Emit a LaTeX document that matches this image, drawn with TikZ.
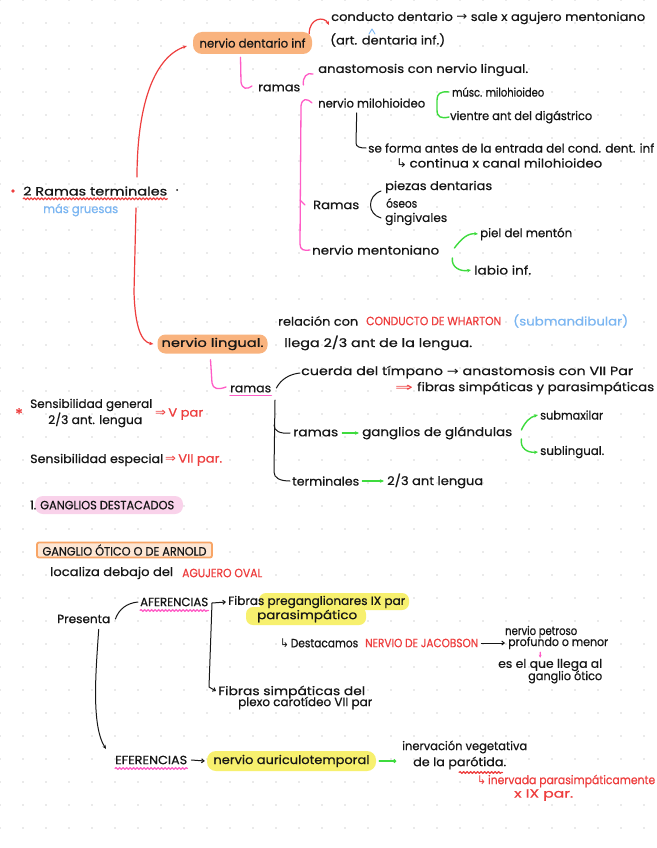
\documentclass[tikz,border=0pt]{standalone}
\usepackage{fontspec}
\setmainfont{Poppins}[FakeBold=0.6]
\newfontfamily\sym{DejaVu Sans}
\usetikzlibrary{arrows.meta,decorations.pathmorphing}
\definecolor{ink}{HTML}{161616}
\definecolor{redc}{HTML}{EE3E3E}
\definecolor{pinkc}{HTML}{FF5CC6}
\definecolor{greenc}{HTML}{3EDB3E}
\definecolor{bluec}{HTML}{7BB6F2}
\definecolor{orangef}{HTML}{F9B37E}
\definecolor{oranged}{HTML}{F8A566}
\definecolor{orangel}{HTML}{FDE6D4}
\definecolor{yelf}{HTML}{F7F06E}
\definecolor{pinkf}{HTML}{F9D2EA}
\definecolor{dotc}{HTML}{D6D6D6}
\newcommand\hand{\fontsize{12}{14}\selectfont}
\newcommand\fw[2]{\resizebox{#1pt}{\height}{#2}}
\begin{document}
\begin{tikzpicture}[x=1pt,y=-1pt,
  t/.style={anchor=west,inner sep=0pt,font=\hand,text=ink},
  blk/.style={draw=ink,line width=1pt,line cap=round,line join=round},
  redl/.style={draw=redc,line width=1.2pt,line cap=round,line join=round},
  pinkl/.style={draw=pinkc,line width=1.3pt,line cap=round,line join=round},
  greenl/.style={draw=greenc,line width=1.4pt,line cap=round,line join=round},
  bluel/.style={draw=bluec,line width=0.9pt,line cap=round,line join=round},
  arr/.style={-{Stealth[length=4pt,width=3.5pt]}},
  barb/.style={-{Straight Barb[length=2.5pt,width=4pt]}},
  wavy/.style={decorate,decoration={snake,amplitude=0.9pt,segment length=3.5pt}},
  hl/.style={inner sep=0pt,font=\hand,text=ink}]
\useasboundingbox (0,0) rectangle (656,848);
\fill[white] (0,0) rectangle (656,848);
\foreach \i in {0,...,28}{\foreach \j in {0,...,36}{\fill[dotc] (\i*23,\j*23) circle (0.9pt);}}

% ---------- nervio dentario inferior ----------
\node[hl,fill=orangef,rounded corners=9pt,minimum width=119pt,minimum height=22pt] (ndi) at (252.5,43) {\fw{106}{nervio dentario inf}};
\node[t] (cd) at (331,18) {\fw{314}{conducto dentario {\sym →} sale x agujero mentoniano}};
\node[t] (ad) at (330,40) {\fw{115}{(art. dentaria inf.)}};
\draw[bluel] (369,34) -- (372,29) -- (375,34);
\draw[redl,arr] ([xshift=-3pt,yshift=-2pt]ndi.north east) .. controls +(0,-16) and +(-5,-9) .. ([xshift=-2pt,yshift=-7pt]cd.west);

\node[t] (ramas1) at (258,88) {\fw{42}{ramas}};
\node[t] (anast) at (318,70) {\fw{210}{anastomosis con nervio lingual.}};
\node[t] (nmilo) at (318,103) {\fw{107}{nervio milohioideo}};
\node[t] (musc) at (452,92) {\fw{92}{músc. milohioideo}};
\node[t] (vientre) at (450,117) {\fw{142}{vientre ant del digástrico}};
\node[t] (seforma) at (368,148) {\fw{286}{se forma antes de la entrada del cond. dent. inf}};
\node[t] (continua) at (396,163) {\fw{206}{{\sym ↳}\,continua x canal milohioideo}};
\node[t] (ramas2) at (313,205) {\fw{46}{Ramas}};
\node[t] (piezas) at (385,187) {\fw{107}{piezas dentarias}};
\node[t] (oseos) at (386,203) {\fw{31}{óseos}};
\node[t] (ging) at (385,219) {\fw{62}{gingivales}};
\node[t] (nment) at (312,250) {\fw{127}{nervio mentoniano}};
\node[t] (piel) at (480,234) {\fw{92}{piel del mentón}};
\node[t] (labio) at (474,270) {\fw{57}{labio inf.}};

\draw[pinkl] ([xshift=-12pt,yshift=-3pt]ndi.south) -- (241,82) .. controls (242,89) and (247,90) .. ([xshift=-6pt,yshift=2pt]ramas1.west);
\draw[pinkl] ([xshift=3pt,yshift=3pt]ramas1.east) .. controls +(-1,-8) and +(-6,-2) .. ([xshift=-5pt,yshift=-4pt]anast.west);
\draw[pinkl] ([xshift=-6pt]nmilo.west) .. controls (307,98) and (302,98) .. (301,106) -- (300,244) .. controls (300,250) and (304,251) .. ([xshift=-2pt]nment.west);
\coordinate (rtick) at (300,200);
\draw[pinkl] (rtick) -- ([xshift=-8pt]ramas2.west);
\draw[greenl] ([xshift=-3pt]musc.west) .. controls (440,91) and (437,94) .. (437,100) -- (437,110) .. controls (437,117) and (441,119) .. ([xshift=-1pt]vientre.west);
\draw[blk] ([xshift=-15pt,yshift=-5pt]nmilo.south) -- (356,143) .. controls (356,147) and (360,148) .. ([xshift=-2pt]seforma.west);
\draw[blk] ([xshift=-4pt,yshift=-4pt]piezas.west) .. controls (367,196) and (367,214) .. ([xshift=-4pt,yshift=1pt]ging.west);
\draw[greenl,arr] ([xshift=15pt,yshift=2pt]nment.east) .. controls (462,238) and (468,233) .. ([xshift=-2pt]piel.west);
\draw[greenl,arr] ([xshift=13pt,yshift=-8pt]nment.east) .. controls (451,267) and (460,272) .. ([xshift=-3pt]labio.west);

% ---------- 2 ramas terminales ----------
\fill[redc] (13,191) circle (1.8pt);
\node[t] (rterm) at (23,191) {\fw{144}{2 Ramas terminales}};
\fill[ink] (177,190) circle (1pt);
\draw[redl,wavy] ([yshift=-3pt]rterm.south west) -- ([yshift=-3pt]rterm.south east);
\node[t,text=bluec] (gruesas) at (43,210) {\fw{75}{más gruesas}};

% ---------- nervio lingual ----------
\node[hl,fill=orangef,rounded corners=8pt,minimum width=110pt,minimum height=19pt] (nl) at (212.5,344) {\fw{102}{nervio lingual.}};
\coordinate (rt1) at (137,177);
\coordinate (rt2) at (136,208);
\draw[redl,arr] (rt1) .. controls (137,110) and (152,58) .. ([xshift=-6pt,yshift=-3pt]ndi.west);
\draw[redl,arr] (rt2) -- (134,292) .. controls (135,326) and (141,342) .. ([xshift=-4pt]nl.west);

\node[t] (rel1) at (278,321) {\fw{80}{relación con}};
\node[t,text=redc] (rel2) at (366,321) {\fw{135}{CONDUCTO DE WHARTON}};
\node[t,text=bluec] (rel3) at (513,321) {\fw{115}{(submandibular)}};
\node[t] (llega) at (284,343) {\fw{188}{llega 2/3 ant de la lengua.}};
\node[t] (ramas3) at (230,389) {\fw{41}{ramas}};
\node[t] (cuerda) at (301,372) {\fw{332}{cuerda del tímpano {\sym →} anastomosis con VII Par}};
\node[t,text=redc] (dbl1) at (395,388) {\fw{18}{\sym ⇒}};
\node[t] (fib) at (417,388) {\fw{237}{fibras simpáticas y parasimpáticas}};
\node[t] (ramas4) at (293,433) {\fw{45}{ramas}};
\node[t] (gangl) at (362,433) {\fw{150}{ganglios de glándulas}};
\node[t] (submax) at (540,415) {\fw{63}{submaxilar}};
\node[t] (subling) at (540,452) {\fw{64}{sublingual.}};
\node[t] (termin) at (292,481) {\fw{67}{terminales}};
\node[t] (ant23) at (387,481) {\fw{96}{2/3 ant lengua}};

\draw[pinkl] ([xshift=-2pt,yshift=-6pt]nl.south) -- (212,383) .. controls (213,389) and (218,390) .. ([xshift=-4pt,yshift=2pt]ramas3.west);
\draw[pinkl] ([yshift=-3pt]ramas3.south west) -- ([yshift=-3pt]ramas3.south east);
\draw[blk] ([xshift=5pt,yshift=1pt]ramas3.east) .. controls (281,379) and (290,374) .. ([xshift=-1pt,yshift=-1pt]cuerda.west);
\coordinate (rv) at (275,400);
\coordinate (rb) at (274,425);
\draw[blk] (rv) -- (274,472) .. controls (274,478) and (280,481) .. ([xshift=-2pt]termin.west);
\draw[blk] (rb) .. controls (274,431) and (280,434) .. ([xshift=-3pt]ramas4.west);
\draw[greenl,arr] ([xshift=4pt]ramas4.east) -- ([xshift=-3pt]gangl.west);
\draw[greenl,arr] ([xshift=3pt]termin.east) -- ([xshift=-3pt]ant23.west);
\draw[greenl,arr] ([xshift=9pt,yshift=3pt]gangl.east) .. controls (525,422) and (530,417) .. ([xshift=-2pt]submax.west);
\draw[greenl,arr] ([xshift=9pt,yshift=-6pt]gangl.east) .. controls (520,448) and (527,453) .. ([xshift=-2pt]subling.west);

% ---------- sensibilidad ----------
\node[t,text=redc,font=\fontsize{16}{16}\selectfont] (ast) at (15,414) {*};
\node[t] (sg1) at (30,405) {\fw{122}{Sensibilidad general}};
\node[t] (sg2) at (48,420) {\fw{94}{2/3 ant. lengua}};
\node[t,text=redc] (vpar) at (155,414) {\fw{48}{{\sym ⇒}\,V par}};
\node[t] (se1) at (30,460) {\fw{133}{Sensibilidad especial}};
\node[t,text=redc] (viipar) at (165,460) {\fw{57}{{\sym ⇒}\,VII par.}};
\fill[pinkf,rounded corners=8pt] (35,496) rectangle (183,514);
\node[t] (gdest) at (30,505) {\fw{144}{1. GANGLIOS DESTACADOS}};

% ---------- ganglio otico ----------
\node[hl,draw=oranged,line width=1.8pt,fill=orangel,rounded corners=2pt,minimum width=175pt,minimum height=15pt] (gotico) at (124.5,550) {\fw{164}{GANGLIO ÓTICO O DE ARNOLD}};
\node[t] (loc1) at (50,573) {\fw{123}{localiza debajo del}};
\node[t,text=redc] (loc2) at (182,573) {\fw{80}{AGUJERO OVAL}};
\node[t] (pres) at (57,619) {\fw{53}{Presenta}};
\node[t] (afer) at (140,602) {\fw{68}{AFERENCIAS}};
\draw[pinkl,wavy] ([yshift=-4pt]afer.south west) -- ([yshift=-4pt]afer.south east);
\fill[yelf,rounded corners=7pt] (259,593) rectangle (409,610);
\fill[yelf,rounded corners=7pt] (246,607) rectangle (366,625);
\node[t] (fib1) at (228,602) {\fw{177}{Fibras preganglionares IX par}};
\node[t] (fib1b) at (257,616) {\fw{100}{parasimpático}};
\node[t] (dest) at (280,643) {\fw{78}{{\sym ↳}\,Destacamos}};
\node[t,text=redc] (jac) at (365,643) {\fw{113}{NERVIO DE JACOBSON}};
\node[t] (pet1) at (505,632) {\fw{72}{nervio petroso}};
\node[t] (pet2) at (508,643) {\fw{100}{profundo o menor}};
\node[t] (esel1) at (498,665) {\fw{104}{es el que llega al}};
\node[t] (esel2) at (528,677) {\fw{74}{ganglio ótico}};
\node[t] (fib2) at (218,692) {\fw{147}{Fibras simpáticas del}};
\node[t] (fib2b) at (238,703) {\fw{134}{plexo carotídeo VII par}};

\draw[blk] ([xshift=5pt]pres.east) .. controls (119,609) and (127,603) .. ([xshift=-2pt]afer.west);
\coordinate (aff) at (212,603);
\draw[blk,barb] (aff) -- ([xshift=-2pt]fib1.west);
\draw[blk,barb] (aff) -- (209,687) -- ([xshift=-2pt,yshift=1pt]fib2.west);
\draw[blk,barb] ([xshift=3pt]jac.east) -- ([xshift=-3pt]pet2.west);
\draw[pinkl,-{Stealth[length=3pt,width=3pt]}] ([xshift=-18pt,yshift=-3pt]pet2.south) -- ([xshift=-10pt,yshift=1pt]esel1.north);

% ---------- eferencias ----------
\node[t] (efer) at (115,760) {\fw{72}{EFERENCIAS}};
\draw[pinkl,wavy] ([yshift=-4pt]efer.south west) -- ([yshift=-4pt]efer.south east);
\node[hl,fill=yelf,rounded corners=9pt,minimum width=169pt,minimum height=20pt] (aur) at (291.5,761) {\fw{156}{nervio auriculotemporal}};
\node[t] (inerv1) at (402,747) {\fw{125}{inervación vegetativa}};
\node[t] (inerv2) at (413,763) {\fw{93}{de la parótida.}};
\draw[redl,wavy] ([xshift=46pt,yshift=-3pt]inerv2.south west) -- ([xshift=-4pt,yshift=-3pt]inerv2.south east);
\node[t,text=redc] (inpar) at (477,781) {\fw{178}{{\sym ↳}\,inervada parasimpáticamente}};
\node[t,text=redc] (ixpar) at (514,795) {\fw{59}{x IX par.}};
\draw[blk,arr] ([xshift=15pt,yshift=-6pt]pres.south) .. controls (96,670) and (91,725) .. ([xshift=-9pt,yshift=11pt]efer.west);
\draw[blk,barb] ([xshift=4pt]efer.east) -- ([xshift=-2pt]aur.west);
\draw[greenl,-{Circle[open,length=3.5pt]}] ([xshift=3pt]aur.east) -- ([xshift=20pt]aur.east);
\end{tikzpicture}
\end{document}
